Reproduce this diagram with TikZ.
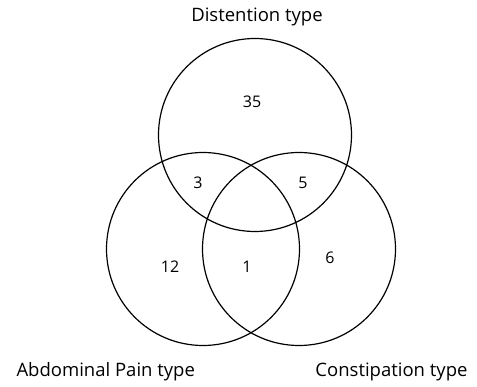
\documentclass[tikz,border=0pt]{standalone}
\usepackage{fontspec}
\setmainfont{Open Sans}
\usepackage{tikz}

\begin{document}
\begin{tikzpicture}[x=1pt, y=-1pt,
  set/.style={circle, draw, line width=1.2pt, minimum size=193pt, inner sep=0pt},
  count/.style={font=\fontsize{16}{18}\selectfont},
  title/.style={font=\fontsize{18.5}{21}\selectfont}]
  \useasboundingbox (0,0) rectangle (477,387);

  \node[set] (D) at (255,135) {};
  \node[set] (A) at (203,249) {};
  \node[set] (C) at (299,249) {};

  \node[title] (tD) at (257,17) {Distention type};
  \node[title, anchor=west] (tA) at (13,372) {Abdominal Pain type};
  \node[title, anchor=east] (tC) at (471,372) {Constipation type};

  \node[count] (n35) at (252,102) {35};
  \node[count] (n3) at (198,183) {3};
  \node[count] (n5) at (303,183) {5};
  \node[count] (n12) at (170,267) {12};
  \node[count] (n1) at (247,267) {1};
  \node[count] (n6) at (330,258) {6};
\end{tikzpicture}
\end{document}
